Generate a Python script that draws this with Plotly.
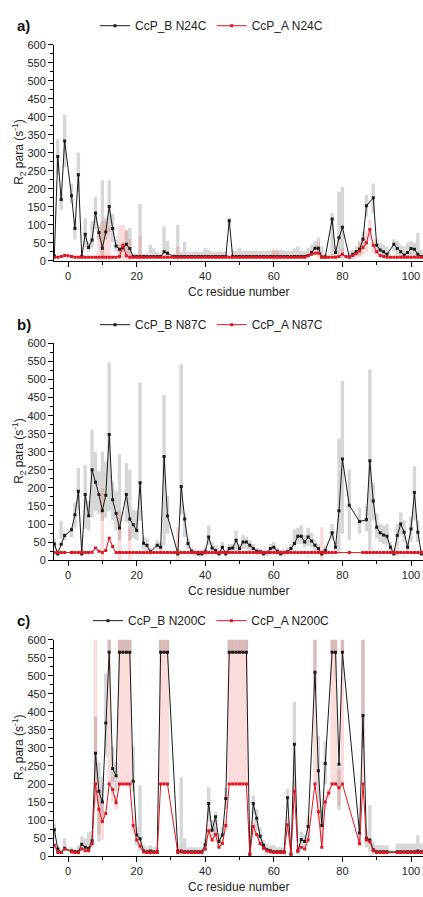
import plotly.graph_objects as go

RESIDUES = list(range(-4, 104))  # 108 residues

# ---------------- panel a (N24C) ----------------
B_A = [14, 290, 170, 333, None, 181, 90, 239, 12, 74,
       37, 58, 133, 79, 35, 80, 151, 90, 41, 32,
       36, 46, 34, 12, 12, 12, 12, 12, 12, 12,
       12, 12, 25, 21, None, 12, 12, 12, 12, 12,
       12, 12, 12, 12, 12, 12, 12, 12, 12, 12,
       12, 111, 12, 12, 12, 12, 12, 12, 12, 12,
       12, 12, 12, 12, 12, 12, 12, 12, 12, 12,
       12, 12, 12, 12, 15, 23, 35, 35, 11, 11,
       None, 116, 23, 64, 93, None, 11, 18, 25, 32,
       60, 153, None, 175, 43, 30, 25, 18, None, 46,
       34, 25, 16, 23, 34, 32, 18, 12]
B_A_LO = [None, 240, 141, 260, None, 160, 59, 192, 5, 37,
          25, 37, 87, 60, 9, 60, 80, 50, 25, 20,
          25, 14, 14, 5, 5, 5, 5, 5, 20, 15,
          5, 5, 14, 14, None, 5, 5, 5, 5, 5,
          5, 5, 5, 5, 5, 5, 5, 5, 5, 5,
          5, 98, 5, 5, 5, 5, 5, 5, 5, 5,
          5, 5, 5, 5, 5, 5, 5, 5, 5, 5,
          5, 5, 5, 5, 10, 15, 20, 15, 5, 5,
          None, 14, 10, 9, 14, None, 5, 5, 10, 15,
          40, 123, None, 132, 20, 15, 10, 10, None, 25,
          15, 10, 5, 10, 15, 10, 5, 5]
B_A_HI = [None, 338, 190, 406, None, 214, 114, 301, 20, 119,
          50, 110, 178, 100, 224, 120, 224, 130, 60, 45,
          50, 85, 91, 20, 20, 158, 20, 20, 45, 35,
          25, 20, 96, 55, None, 20, 100, 25, 52, 25,
          25, 25, 25, 25, 35, 30, 25, 25, 25, 25,
          25, 120, 28, 28, 35, 28, 28, 28, 28, 28,
          28, 28, 28, 28, 28, 28, 30, 28, 28, 28,
          35, 40, 28, 28, 35, 45, 55, 65, 40, 20,
          None, 132, 40, 192, 205, None, 25, 30, 40, 55,
          80, 183, None, 215, 60, 50, 45, 40, None, 60,
          55, 45, 40, 50, 55, 50, 78, 30]
A_A = [10, 10, 12, 15, 14, 12, 10, 10, 10, 10,
       10, 10, 10, 10, 10, 10, 10, 10, 10, 12,
       43, 14, 10, 10, 10, 10, 10, 10, 10, 10,
       10, 10, 10, 10, 10, 10, 10, 10, 10, 10,
       10, 10, 10, 10, 10, 10, 10, 10, 10, 10,
       10, 10, 10, 10, 10, 10, 10, 10, 10, 10,
       10, 10, 10, 10, 10, 10, 10, 10, 10, 10,
       10, 10, 10, 10, 14, 18, 21, 22, 11, 10,
       10, 10, 10, 12, 18, 12, 10, 15, 20, 27,
       37, 50, 87, 43, 25, 15, 12, 10, 10, 10,
       10, 10, 10, 10, 10, 10, 10, 10]
A_A_ERR_RES = [9, 10, 11, 12, 15, 16, 17, 18, 21, 32, 60, 61, 73, 80, 85, 86, 87, 88, 89]
A_A_ERR_LO = [0, 0, 0, 0, 0, 0, 0, 0, 0, 0, 0, 0, 5, 5, 10, 15, 25, 60, 20]
A_A_ERR_HI = [95, 110, 110, 95, 100, 100, 85, 60, 68, 40, 35, 30, 50, 35, 50, 65, 85, 115, 60]

# ---------------- panel b (N87C) ----------------
B_B = [45, 18, 44, 68, None, 84, 126, 191, 18, 182,
       123, 250, 216, 182, 137, 180, 348, 167, 129, 89,
       None, 182, 114, 98, 82, 214, 47, 41, 23, None,
       41, 36, 287, 122, None, None, 18, 204, 114, 46,
       25, 21, 18, 18, 23, 64, 34, 27, 18, 36,
       18, 32, 34, 55, 32, 50, 50, 41, 32, 25,
       23, 18, 21, 32, 36, 25, 18, 21, 23, 32,
       46, 66, 66, 50, 64, 53, 41, 32, 18, 27,
       None, 76, 36, 137, 280, None, 152, None, None, 107,
       None, 112, 275, 164, 91, 76, 70, 66, 36, 18,
       68, 100, 77, 36, 86, 187, 77, 18]
B_B_LO = [30, 10, 59, 55, None, 64, 90, 137, 10, 86,
          82, 118, 137, 128, 109, 118, 137, 109, 82, 55,
          None, 105, 55, 60, 55, 109, 30, 25, 15, None,
          30, 25, 41, 73, None, None, 10, 128, 64, 30,
          15, 12, 10, 10, 12, 41, 20, 15, 10, 20,
          10, 20, 20, 27, 20, 30, 30, 25, 20, 15,
          15, 10, 12, 20, 25, 15, 10, 12, 15, 20,
          36, 45, 45, 35, 40, 36, 25, 20, 10, 15,
          None, 55, 25, 18, 73, None, 55, None, None, 73,
          None, 80, 27, 109, 60, 50, 45, 41, 20, 10,
          40, 68, 50, 20, 50, 109, 50, 10]
B_B_HI = [60, 30, 109, 77, None, 91, 160, 255, 30, 264,
          164, 362, 300, 246, 300, 273, 548, 218, 191, 293,
          None, 269, 250, 140, 137, 492, 65, 60, 35, None,
          55, 50, 457, 178, None, None, 30, 542, 132, 60,
          35, 30, 28, 28, 35, 96, 50, 40, 28, 50,
          28, 45, 45, 82, 45, 70, 65, 55, 45, 35,
          32, 28, 30, 45, 50, 35, 28, 30, 35, 45,
          85, 90, 96, 70, 90, 75, 55, 45, 28, 40,
          None, 100, 50, 337, 496, None, 250, None, None, 146,
          None, 150, 528, 214, 130, 100, 95, 100, 50, 30,
          100, 132, 110, 50, 120, 260, 110, 30]
A_B = [21, 21, 21, 21, None, 21, 21, 21, 21, 21,
       21, 22, 34, 25, 21, 27, 61, 38, 21, 21,
       21, 21, 21, 21, 21, 21, 21, 21, 21, 21,
       21, 21, 21, 21, 21, 21, 21, 21, 21, 21,
       21, 21, 21, 21, 21, 21, 21, 21, 21, 21,
       21, 21, 21, 21, 21, 21, 21, 21, 21, 21,
       21, 21, 21, 21, 21, 21, 21, 21, 21, 21,
       21, 21, 21, 21, 21, 21, 21, 21, 21, 21,
       21, 21, 21, None, None, None, 21, None, None, None,
       21, 21, 21, 21, 21, 21, 21, 21, 21, 21,
       21, 21, 21, 21, 21, 21, 21, 21]
A_B_ERR_RES = [10, 15, 18, 32, 74, 96]
A_B_ERR_LO = [0, 0, 0, 0, 0, 10]
A_B_ERR_HI = [200, 137, 91, 91, 91, 40]

# ---------------- panel c (N200C) ----------------
B_C = [73, 20, 10, 22, None, 14, 12, 12, 33, 25,
       22, 43, 285, 180, 150, 369, 565, 243, 223, 565,
       565, 565, 565, 208, 59, 48, 14, 12, 14, 12,
       12, 565, 565, 565, None, None, 14, 12, 12, 12,
       12, 12, 12, 12, 32, 146, 72, 109, 41, 59,
       160, 565, 565, 565, 565, 565, 565, 5, 146, 105,
       55, 30, 18, 15, 12, 12, 12, 12, 162, 5,
       310, 14, 46, 41, 82, None, 510, 237, 85, 257,
       None, 565, 565, 255, 565, None, None, None, None, 64,
       390, 50, 45, 18, 12, 12, 12, 12, None, None,
       12, 12, 12, 12, 12, 12, 14, 12]
B_C_LO = [50, 10, 5, 14, None, 5, 5, 5, 20, 15,
          14, 25, 200, 41, 100, 278, 563, 205, 180, 563,
          563, 563, 563, 178, 30, 14, 5, 5, 5, 5,
          5, 563, 563, 563, None, None, 5, 5, 5, 5,
          5, 5, 5, 5, 15, 96, 50, 59, 25, 40,
          130, 563, 563, 563, 563, 563, 563, None, 114, 70,
          30, 15, 5, 5, 5, 5, 5, 5, 132, None,
          178, 5, 32, 25, 50, None, 460, 150, 40, 200,
          None, 563, 563, 128, 563, None, None, None, None, 40,
          300, 25, 14, 5, 5, 5, 5, 5, None, None,
          5, 5, 5, 5, 5, 5, 5, 5]
B_C_HI = [90, 30, 20, 50, None, 25, 20, 30, 55, 50,
          68, 70, 387, 260, 220, 506, 640, 305, 260, 640,
          640, 640, 640, 305, 80, 196, 30, 25, 30, 25,
          25, 640, 640, 640, None, None, 30, 219, 50, 25,
          25, 25, 25, 25, 50, 191, 100, 123, 60, 80,
          190, 640, 640, 640, 640, 640, 640, None, 169, 130,
          80, 45, 35, 30, 30, 25, 25, 25, 187, None,
          428, 30, 68, 60, 110, None, 640, 333, 130, 320,
          None, 640, 640, 250, 640, None, None, None, None, 90,
          640, 70, 141, 40, 30, 30, 30, 30, None, None,
          35, 35, 35, 35, 35, 35, 59, 35]
A_C = [30, 10, 10, 20, None, 12, 10, 10, 20, 15,
       15, 35, 200, 130, 96, 118, 200, 185, 148, 200,
       200, 200, 200, 85, 45, 28, 12, 10, 10, 10,
       10, 200, 200, 200, None, None, 10, 15, 10, 10,
       10, 10, 10, 10, 20, 70, 45, 60, 25, 35,
       85, 200, 200, 200, 200, 200, 200, 5, 82, 60,
       35, 22, 15, 12, 10, 10, 10, 10, 87, 5,
       180, 15, 25, 20, 45, None, 200, 123, 25, 150,
       175, 200, 200, 190, 200, None, None, None, None, 35,
       200, 45, 40, 15, 10, 10, 10, 10, None, None,
       10, 10, 10, 10, 10, 10, 10, 10]
A_C_ERR_RES = [8, 9, 10, 12, 13, 14, 15, 16, 17, 18, 19, 27, 28, 29, 41, 43, 46,
               47, 48, 49, 50, 51, 52, 54, 64, 66, 72, 73, 75, 76, 77, 78, 79, 80, 85, 86]
A_C_ERR_LO = [150, 60, 45, 200, 150, 130, 200, 200, 200, 200, 60, 200, 200, 200, 50, 40, 70,
              200, 200, 200, 200, 200, 200, 60, 60, 150, 200, 100, 130, 160, 200, 200, 140, 200, 25, 200]
A_C_ERR_HI = [640, 180, 150, 640, 220, 170, 640, 640, 640, 640, 110, 640, 640, 640, 90, 80, 100,
              640, 640, 640, 640, 640, 640, 100, 110, 210, 640, 150, 170, 190, 640, 640, 240, 640, 50, 640]

PANELS = [
    ("a)", "N24C", B_A, B_A_LO, B_A_HI, A_A, A_A_ERR_RES, A_A_ERR_LO, A_A_ERR_HI),
    ("b)", "N87C", B_B, B_B_LO, B_B_HI, A_B, A_B_ERR_RES, A_B_ERR_LO, A_B_ERR_HI),
    ("c)", "N200C", B_C, B_C_LO, B_C_HI, A_C, A_C_ERR_RES, A_C_ERR_LO, A_C_ERR_HI),
]

W, H = 423, 897
PLOT_TOP = [39.3, 342.0, 642.3]
PLOT_BOT = [258.3, 561.7, 861.7]
LEG_Y = [20, 323, 623]
XT_Y = [290, 592.5, 893]
AX_LEFT = 54

GRAY = "rgba(0,0,0,0.16)"
PINK = "rgba(235,40,40,0.17)"
BLACK = "#1a1a1a"
RED = "#e3141e"
FONT = "Liberation Sans, Arial, sans-serif"


def py(p):
    return 1 - p / H


def err_trace(xs, lo, hi, color, xa, ya):
    xx, yy, plus = [], [], []
    for x, l, h in zip(xs, lo, hi):
        if l is None or h is None:
            continue
        xx.append(x)
        yy.append(l)
        plus.append(h - l)
    return go.Scatter(
        x=xx, y=yy, mode="markers",
        marker=dict(size=1, color="rgba(0,0,0,0)"),
        error_y=dict(type="data", symmetric=False, array=plus,
                     arrayminus=[0] * len(plus), color=color,
                     thickness=3.4, width=0),
        showlegend=False, hoverinfo="skip", xaxis=xa, yaxis=ya)


fig = go.Figure()
annotations = []
layout = dict()

for i, (lab, mut, B, BLO, BHI, A, AER, ALO, AHI) in enumerate(PANELS):
    n = "" if i == 0 else str(i + 1)
    xa, ya = "x" + n, "y" + n
    leg = "legend" + n
    fig.add_trace(err_trace(RESIDUES, BLO, BHI, GRAY, xa, ya))
    fig.add_trace(err_trace(AER, ALO, AHI, PINK, xa, ya))
    fig.add_trace(go.Scatter(
        x=RESIDUES, y=B, mode="lines+markers", name="CcP_B " + mut,
        line=dict(color=BLACK, width=1),
        marker=dict(symbol="square", size=3, color=BLACK),
        connectgaps=True, xaxis=xa, yaxis=ya, legend=leg))
    fig.add_trace(go.Scatter(
        x=RESIDUES, y=A, mode="lines+markers", name="CcP_A " + mut,
        line=dict(color=RED, width=1),
        marker=dict(symbol="square", size=3, color=RED),
        connectgaps=True, xaxis=xa, yaxis=ya, legend=leg))

    common = dict(showline=True, linecolor="black", linewidth=1, ticks="outside",
                  ticklen=5, tickwidth=1, tickcolor="black", showgrid=False,
                  zeroline=False, tickfont=dict(size=11, color="#222", family=FONT))
    layout["xaxis" + n] = dict(
        common, domain=[AX_LEFT / W, 1], anchor=ya, range=[-4.1, 103.5],
        tick0=0, dtick=20,
        minor=dict(ticks="outside", ticklen=3, dtick=10, tick0=0, tickcolor="black"))
    layout["yaxis" + n] = dict(
        common, domain=[py(PLOT_BOT[i]), py(PLOT_TOP[i])], anchor=xa,
        range=[0, 600], tick0=0, dtick=50,
        minor=dict(ticks="outside", ticklen=3, dtick=25, tick0=0, tickcolor="black"))
    layout[leg] = dict(
        orientation="h", x=0.5, xanchor="center", y=py(LEG_Y[i]), yanchor="middle",
        font=dict(size=12, color="#222", family=FONT), bgcolor="rgba(0,0,0,0)",
        itemwidth=30, tracegroupgap=0)

    annotations.append(dict(text="<b>" + lab + "</b>", x=15 / W, y=py(LEG_Y[i]),
                            xref="paper", yref="paper", xanchor="left", yanchor="middle",
                            showarrow=False, font=dict(size=15, color="#111", family=FONT)))
    annotations.append(dict(text="R<sub>2</sub> para (s<sup>-1</sup>)", x=19 / W,
                            y=py((PLOT_TOP[i] + PLOT_BOT[i]) / 2), textangle=-90,
                            xref="paper", yref="paper", xanchor="center", yanchor="middle",
                            showarrow=False, font=dict(size=12, color="#222", family=FONT)))
    annotations.append(dict(text="Cc residue number", x=(AX_LEFT + (W - AX_LEFT) / 2) / W,
                            y=py(XT_Y[i]), xref="paper", yref="paper",
                            xanchor="center", yanchor="middle", showarrow=False,
                            font=dict(size=12, color="#222", family=FONT)))

fig.update_layout(
    width=W, height=H, margin=dict(l=0, r=0, t=0, b=0),
    paper_bgcolor="white", plot_bgcolor="white",
    font=dict(family=FONT), annotations=annotations, **layout)

fig.write_html("out.html", config={"displayModeBar": False},
               post_script="document.body.style.margin='0px';document.body.style.overflow='hidden';")
